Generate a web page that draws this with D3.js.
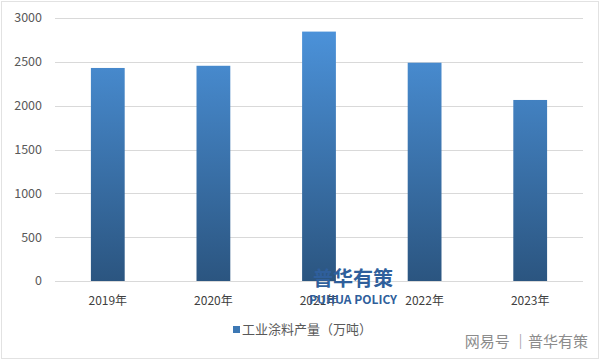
<!DOCTYPE html>
<html>
<head>
<meta charset="utf-8">
<script src="https://cdn.jsdelivr.net/npm/d3@7"></script>
<style>
  body { margin: 0; background: #fff; }
  svg { display: block; font-family: "Noto Sans CJK SC", "Noto Sans", sans-serif; }
</style>
</head>
<body>
<svg class="container"></svg>
<script>
const years = ['2019年', '2020年', '2021年', '2022年', '2023年'];
const output = [2430, 2455, 2845, 2490, 2065];
const yTicks = [0, 500, 1000, 1500, 2000, 2500, 3000];
const seriesName = '工业涂料产量（万吨）';

const w = 601, h = 361;
const margin = { top: 18, right: 18, bottom: 80, left: 55 };

const svg = d3.select('.container').attr('width', w).attr('height', h);

// outer frame
svg.append('rect')
  .attr('x', 1.5).attr('y', 1.5)
  .attr('width', w - 4).attr('height', h - 4)
  .attr('fill', '#fff')
  .attr('stroke', '#e2e2e2');

const x = d3.scaleBand().domain(years).range([margin.left, w - margin.right]).paddingInner(0.68).paddingOuter(0.34);
const y = d3.scaleLinear().domain([0, 3000]).range([h - margin.bottom, margin.top]);

const defs = svg.append('defs');
const grad = defs.append('linearGradient').attr('id', 'barGrad')
  .attr('x1', 0).attr('x2', 0)
  .attr('gradientUnits', 'userSpaceOnUse')
  .attr('y1', y(3000)).attr('y2', y(0));
grad.append('stop').attr('offset', '0%').attr('stop-color', '#4d95de');
grad.append('stop').attr('offset', '100%').attr('stop-color', '#2b5580');

// gridlines
svg.selectAll('.grid').data(yTicks).join('line')
  .attr('class', 'grid')
  .attr('x1', margin.left).attr('x2', w - margin.right)
  .attr('y1', d => Math.round(y(d)) + 0.5).attr('y2', d => Math.round(y(d)) + 0.5)
  .attr('stroke', '#d9d9d9');

// y labels
svg.selectAll('.ylab').data(yTicks).join('text')
  .attr('class', 'ylab')
  .attr('x', 42).attr('y', d => y(d))
  .attr('dy', '0.35em')
  .attr('text-anchor', 'end')
  .attr('font-size', 12.5)
  .attr('fill', '#595959')
  .text(d => d);

// bars
svg.selectAll('.bar').data(output).join('rect')
  .attr('class', 'bar')
  .attr('x', (d, i) => x(years[i]))
  .attr('y', d => y(d))
  .attr('width', x.bandwidth())
  .attr('height', d => y(0) - y(d))
  .attr('fill', 'url(#barGrad)');

// x labels
svg.selectAll('.xlab').data(years).join('text')
  .attr('class', 'xlab')
  .attr('x', d => x(d) + x.bandwidth() / 2)
  .attr('y', y(0) + 24)
  .attr('text-anchor', 'middle')
  .attr('font-size', 12)
  .attr('fill', '#404040')
  .text(d => d);

// legend
const legend = svg.append('g').attr('transform', 'translate(233, 334)');
legend.append('rect')
  .attr('x', 0).attr('y', -8).attr('width', 7).attr('height', 7)
  .attr('fill', '#3d78b4');
legend.append('text')
  .attr('x', 9).attr('y', 0)
  .attr('font-size', 13)
  .attr('fill', '#595959')
  .text(seriesName);

// watermark in the middle (overlaps the 2021 label, as in the source image)
svg.append('text')
  .attr('x', 353).attr('y', 286)
  .attr('text-anchor', 'middle')
  .attr('font-size', 20).attr('font-weight', 'bold')
  .attr('fill', '#2f5f9c')
  .text('普华有策');
svg.append('text')
  .attr('x', 353).attr('y', 304)
  .attr('text-anchor', 'middle')
  .attr('font-size', 12).attr('font-weight', 'bold')
  .attr('fill', '#2f5f9c')
  .text('PUHUA POLICY');

// corner mark
svg.append('text')
  .attr('x', 588).attr('y', 347)
  .attr('text-anchor', 'end')
  .attr('font-size', 15)
  .attr('fill', '#8c8c8c')
  .text('网易号 ｜普华有策');
</script>
</body>
</html>
